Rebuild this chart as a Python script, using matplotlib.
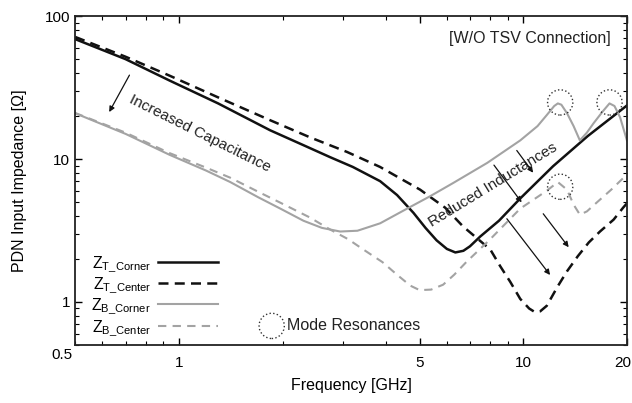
import matplotlib
matplotlib.use("Agg")
import matplotlib.pyplot as plt
import matplotlib.transforms as mtransforms

plt.rcParams['font.family'] = ['Liberation Sans', 'DejaVu Sans']
plt.rcParams['mathtext.default'] = 'regular'

# values (frequency in GHz, impedance in ohm)
f_t_corner = [0.5, 0.7, 0.94, 1.3, 1.84, 2.3, 2.75, 3.2, 3.84, 4.3, 4.8, 5.2, 5.6, 6.0, 6.35, 6.7, 7.0, 7.5,
              8.5, 9.8, 12.2, 15.4, 20]
z_t_corner = [69, 50, 35.4, 24.5, 15.9, 12.5, 10.3, 8.8, 7.0, 5.6, 4.2, 3.3, 2.7, 2.35, 2.22, 2.28, 2.45, 2.87,
              3.7, 5.3, 8.9, 14.5, 23.7]

f_t_center = [0.5, 0.7, 0.94, 1.3, 1.84, 2.4, 3.08, 3.84, 4.4, 5.02, 5.26, 5.93, 6.69, 8.02, 8.57, 9.17, 9.8,
              10.4, 10.8, 11.2, 11.7, 12.6, 13.4, 14.4, 15.5, 16.7, 18.3, 19.5, 20]
z_t_center = [71.5, 52, 38.3, 27, 18.7, 14.2, 11.2, 8.8, 7.3, 6.1, 5.62, 4.57, 3.37, 2.33, 1.78, 1.38, 1.05,
              0.9, 0.85, 0.86, 0.94, 1.29, 1.64, 2.09, 2.61, 3.11, 3.77, 4.57, 4.9]

f_b_corner = [0.5, 0.7, 0.94, 1.2, 1.41, 1.7, 1.97, 2.3, 2.6, 2.94, 3.3, 3.84, 4.6, 5.37, 6.26, 7.86, 9.8,
              11.0, 11.7, 12.3, 12.6, 12.9, 13.4, 14.0, 14.6, 15.3, 16.0, 17.0, 17.8, 18.4, 19.1, 20]
z_b_corner = [20.9, 15, 10.7, 8.3, 6.9, 5.4, 4.5, 3.7, 3.3, 3.11, 3.15, 3.55, 4.5, 5.5, 6.8, 9.4, 13.5,
              17, 20.3, 23.5, 24.5, 24, 20.9, 17, 13.5, 15.3, 17.8, 21.5, 24.5, 23.5, 19.6, 13.5]

f_b_center = [0.5, 0.7, 0.94, 1.2, 1.41, 1.7, 1.97, 2.4, 2.75, 3.1, 3.43, 3.9, 4.3, 4.7, 5.0, 5.4, 5.85, 6.3,
              6.83, 7.96, 9.8, 11.7, 12.6, 13.4, 14.0, 14.6, 15.3, 16.4, 18.0, 20]
z_b_center = [21, 15.3, 11.0, 8.7, 7.4, 5.9, 4.95, 3.9, 3.21, 2.75, 2.33, 1.9, 1.55, 1.3, 1.21, 1.22, 1.32, 1.55,
              1.9, 2.7, 4.5, 6.0, 6.9, 6.1, 4.8, 4.08, 4.3, 5.0, 6.1, 7.8]

labels = [r'$Z_{T\_Corner}$', r'$Z_{T\_Center}$', r'$Z_{B\_Corner}$', r'$Z_{B\_Center}$']

# mode resonance markers
res_f = [12.8, 17.8, 12.8]
res_z = [24.9, 24.9, 6.4]

# arrows: (f_start, z_start, f_end, z_end)
cap_arrow = (0.725, 40.2, 0.622, 20.5)
ind_arrows = [
    (8.13, 9.4, 10.0, 4.8),
    (9.47, 11.9, 10.8, 7.74),
    (8.86, 3.96, 12.1, 1.49),
    (11.3, 4.29, 13.7, 2.33),
]

black = '#111111'
gray = '#a3a3a3'

fig = plt.figure(figsize=(6.32, 4.03), dpi=100)
ax = fig.add_axes([0.119, 0.144, 0.873, 0.816])

ax.plot(f_t_corner, z_t_corner, color=black, lw=1.8, label=labels[0])
ax.plot(f_t_center, z_t_center, color=black, lw=1.8, ls=(0, (4, 2.5)), label=labels[1])
ax.plot(f_b_corner, z_b_corner, color=gray, lw=1.5, label=labels[2])
ax.plot(f_b_center, z_b_center, color=gray, lw=1.5, ls=(0, (4, 3)), label=labels[3])

ax.set_xscale('log')
ax.set_yscale('log')
ax.set_xlim(0.5, 20)
ax.set_ylim(0.5, 100)

ax.set_xticks([1, 5, 10, 20])
ax.set_xticklabels(['1', '5', '10', '20'])
ax.set_yticks([1, 10, 100])
ax.set_yticklabels(['1', '10', '100'])
ax.tick_params(which='both', direction='in', top=True, right=True, labelsize=11)
ax.tick_params(which='major', length=5, width=1)
ax.tick_params(which='minor', length=3, width=0.8)
ax.tick_params(axis='x', pad=8)
last = ax.get_xticklabels()[-1]
last.set_transform(last.get_transform() + mtransforms.ScaledTranslation(-3 / 72, 0, fig.dpi_scale_trans))
ax.text(-0.005, -0.03, '0.5', transform=ax.transAxes, ha='right', va='center', fontsize=11)
for s in ax.spines.values():
    s.set_linewidth(1.3)
    s.set_color('#222222')

ax.set_xlabel('Frequency [GHz]', fontsize=11.5, labelpad=6)
ax.set_ylabel('PDN Input Impedance [\u03a9]', fontsize=11.5, labelpad=13)

ax.text(0.971, 0.933, '[W/O TSV Connection]', transform=ax.transAxes,
        ha='right', va='center', fontsize=11.5, color='#222222')

# annotations
ax.text(1.15, 15.1, 'Increased Capacitance', rotation=-26.5, ha='center', va='center',
        fontsize=11, color='#222222', rotation_mode='anchor')
ax.annotate('', xy=cap_arrow[2:], xytext=cap_arrow[:2],
            arrowprops=dict(arrowstyle='-|>', color=black, lw=0.9, mutation_scale=8))
ax.text(8.18, 6.6, 'Reduced Inductances', rotation=31.5, ha='center', va='center',
        fontsize=11, color='#222222', rotation_mode='anchor')
for a in ind_arrows:
    ax.annotate('', xy=a[2:], xytext=a[:2],
                arrowprops=dict(arrowstyle='-|>', color=black, lw=0.9, mutation_scale=8))

ax.scatter(res_f, res_z, s=330, facecolors='none', edgecolors='#333333',
           linestyles=':', linewidths=1.0, zorder=5)
ax.scatter([1.86], [0.68], s=330, facecolors='none', edgecolors='#333333',
           linestyles=':', linewidths=1.0, zorder=5)
ax.text(2.06, 0.68, 'Mode Resonances', ha='left', va='center', fontsize=11.5, color='#222222')

ax.legend(loc='upper left', bbox_to_anchor=(0.015, 0.30), markerfirst=False, frameon=False,
          handlelength=3.8, fontsize=11.5, labelspacing=0.1, borderpad=0, handletextpad=0.4)

fig.savefig('out.png', dpi=100)
